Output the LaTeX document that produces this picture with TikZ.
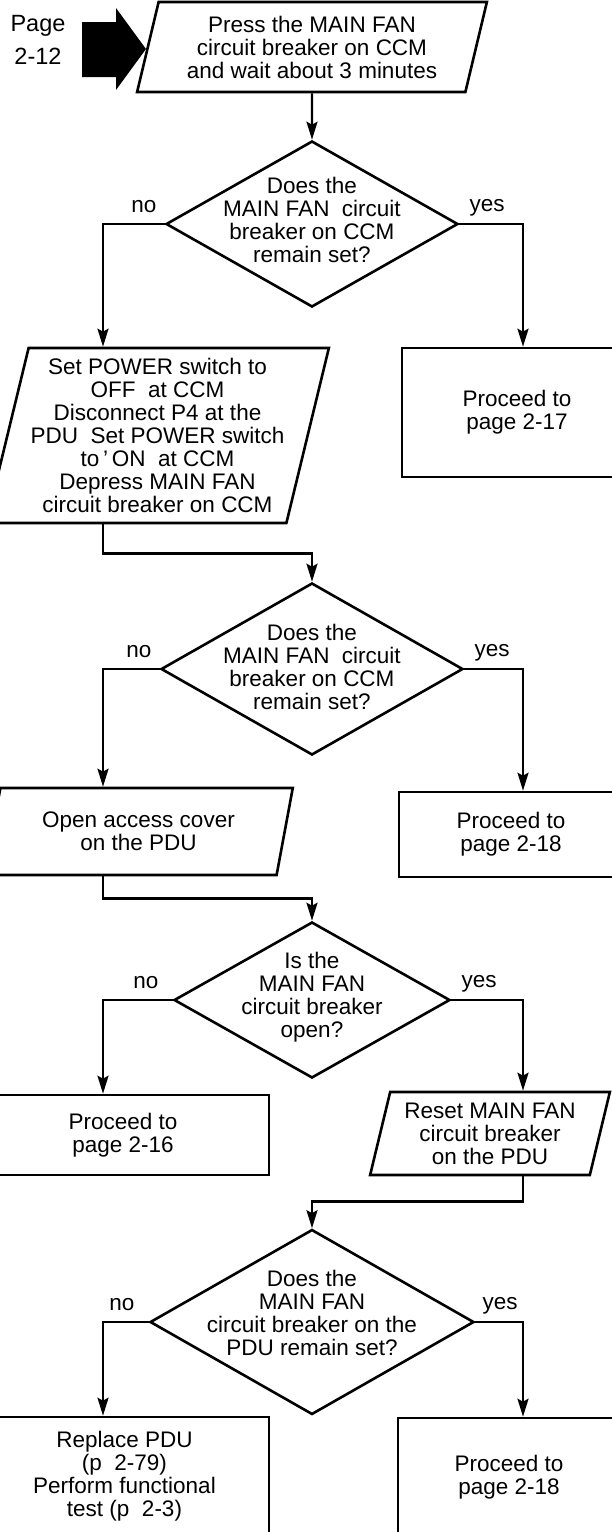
\documentclass[tikz,border=0pt]{standalone}
\usepackage{fontspec}
\setmainfont{Liberation Sans}
\usetikzlibrary{shapes.geometric, arrows.meta, positioning}

\begin{document}
\begin{tikzpicture}[x=1pt, y=-1pt, every node/.style = {align=center, font=\fontsize{22.5}{23}\selectfont}, line width=2.4pt]
	\tikzstyle{proc} = [draw, rectangle, inner sep=2pt, line width=2.6pt]
	\tikzstyle{task} = [draw, trapezium, trapezium left angle=75, trapezium right angle=105, trapezium stretches=true, inner sep=2pt, line width=2.6pt]
	\tikzstyle{ask} = [draw, diamond, inner sep=0pt, line width=2.6pt]
	\tikzstyle{conn} = [-{Stealth[length=18pt, width=11pt, inset=3pt]}, line width=2.4pt]
	\tikzstyle{lbl} = [inner sep=0pt]
	\useasboundingbox (0,0) rectangle (612,1532);
	\clip (0,0) rectangle (612,1532);
	\coordinate (lcol) at (103,0);
	\coordinate (rcol) at (523,0);
	% entry
	\node[font=\fontsize{23.5}{33}\selectfont] (pg) at (38,40) {Page\\2-12};
	\fill (82,22) -- (116,22) -- (116,8) -- (146,49) -- (116,90) -- (116,77) -- (82,77) -- cycle;
	\node[task, minimum width=350pt, minimum height=90pt] (b1) at (312,47) {Press the MAIN FAN\\circuit breaker on CCM\\and wait about 3 minutes};
	% first check
	\node[ask, minimum width=292pt, minimum height=166pt] (d1) at (312,224) {};
	\node (d1t) at ([yshift=4pt]d1.center) {Does the\\MAIN FAN\ \ circuit\\breaker on CCM\\remain set?};
	\node[task, minimum width=315pt, minimum height=175pt] (b2) at (157.5,435.5) {Set POWER switch to\\OFF\ \ at CCM\\Disconnect P4 at the\\PDU\ \ Set POWER switch\\to\,'\,ON\ \ at CCM\\Depress MAIN FAN\\circuit breaker on CCM};
	\node[proc, minimum width=230pt, minimum height=129pt] (b3) at (517,412.5) {Proceed to\\page 2-17};
	% second check
	\node[ask, minimum width=302pt, minimum height=172pt] (d2) at (312,669) {};
	\node (d2t) at ([yshift=2pt]d2.center) {Does the\\MAIN FAN\ \ circuit\\breaker on CCM\\remain set?};
	\node[task, minimum width=309pt, minimum height=87pt] (b4) at (138.5,831.5) {Open access cover\\on the PDU};
	\node[proc, minimum width=224pt, minimum height=85pt] (b5) at (511,834.5) {Proceed to\\page 2-18};
	% third check
	\node[ask, minimum width=276pt, minimum height=156pt] (d3) at (312,1000) {};
	\node (d3t) at ([yshift=3pt]d3.center) {Is the\\MAIN FAN\\circuit breaker\\open?};
	\node[proc, minimum width=292pt, minimum height=80pt] (b6) at (123,1135) {Proceed to\\page 2-16};
	\node[task, minimum width=240pt, minimum height=83pt] (b7) at (490,1133.5) {Reset MAIN FAN\\circuit breaker\\on the PDU};
	% last check
	\node[ask, minimum width=324pt, minimum height=185pt] (d4) at (312,1322) {};
	\node (d4t) at ([yshift=9pt]d4.center) {Does the\\MAIN FAN\\circuit breaker on the\\PDU remain set?};
	\node[proc, minimum width=289pt, minimum height=119pt] (b8) at (124.5,1476.5) {Replace PDU\\(p\ \ 2-79)\\Perform functional\\test (p\ \ 2-3)};
	\node[proc, minimum width=222pt, minimum height=119pt] (b9) at (509,1477.5) {Proceed to\\page 2-18};
	% labels
	\node[lbl, above left=10pt and 7pt of d1.west] (no1) {no};
	\node[lbl, above right=7pt and 9pt of d1.east] (yes1) {yes};
	\node[lbl, above left=10pt and 7pt of d2.west] (no2) {no};
	\node[lbl, above right=7pt and 9pt of d2.east] (yes2) {yes};
	\node[lbl, above left=10pt and 13pt of d3.west] (no3) {no};
	\node[lbl, above right=7pt and 9pt of d3.east] (yes3) {yes};
	\node[lbl, above left=10pt and 13pt of d4.west] (no4) {no};
	\node[lbl, above right=7pt and 6pt of d4.east] (yes4) {yes};
	% connectors
	\draw[conn] (b1.south) -- (d1.north);
	\draw[conn] (d1.west) -| (lcol |- b2.north);
	\draw[conn] (d1.east) -| (rcol |- b3.north);
	\draw[conn] (lcol |- b2.south) -- ++(0,29) -| (d2.north);
	\draw[conn] (d2.west) -| (lcol |- b4.north);
	\draw[conn] (d2.east) -| (rcol |- b5.north);
	\draw[conn] (lcol |- b4.south) -- ++(0,22) -| (d3.north);
	\draw[conn] (d3.west) -| (lcol |- b6.north);
	\draw[conn] (d3.east) -| (rcol |- b7.north);
	\draw[conn] (rcol |- b7.south) -- ++(0,25) -| (d4.north);
	\draw[conn] (d4.west) -| (lcol |- b8.north);
	\draw[conn] (d4.east) -| (rcol |- b9.north);
\end{tikzpicture}
\end{document}
